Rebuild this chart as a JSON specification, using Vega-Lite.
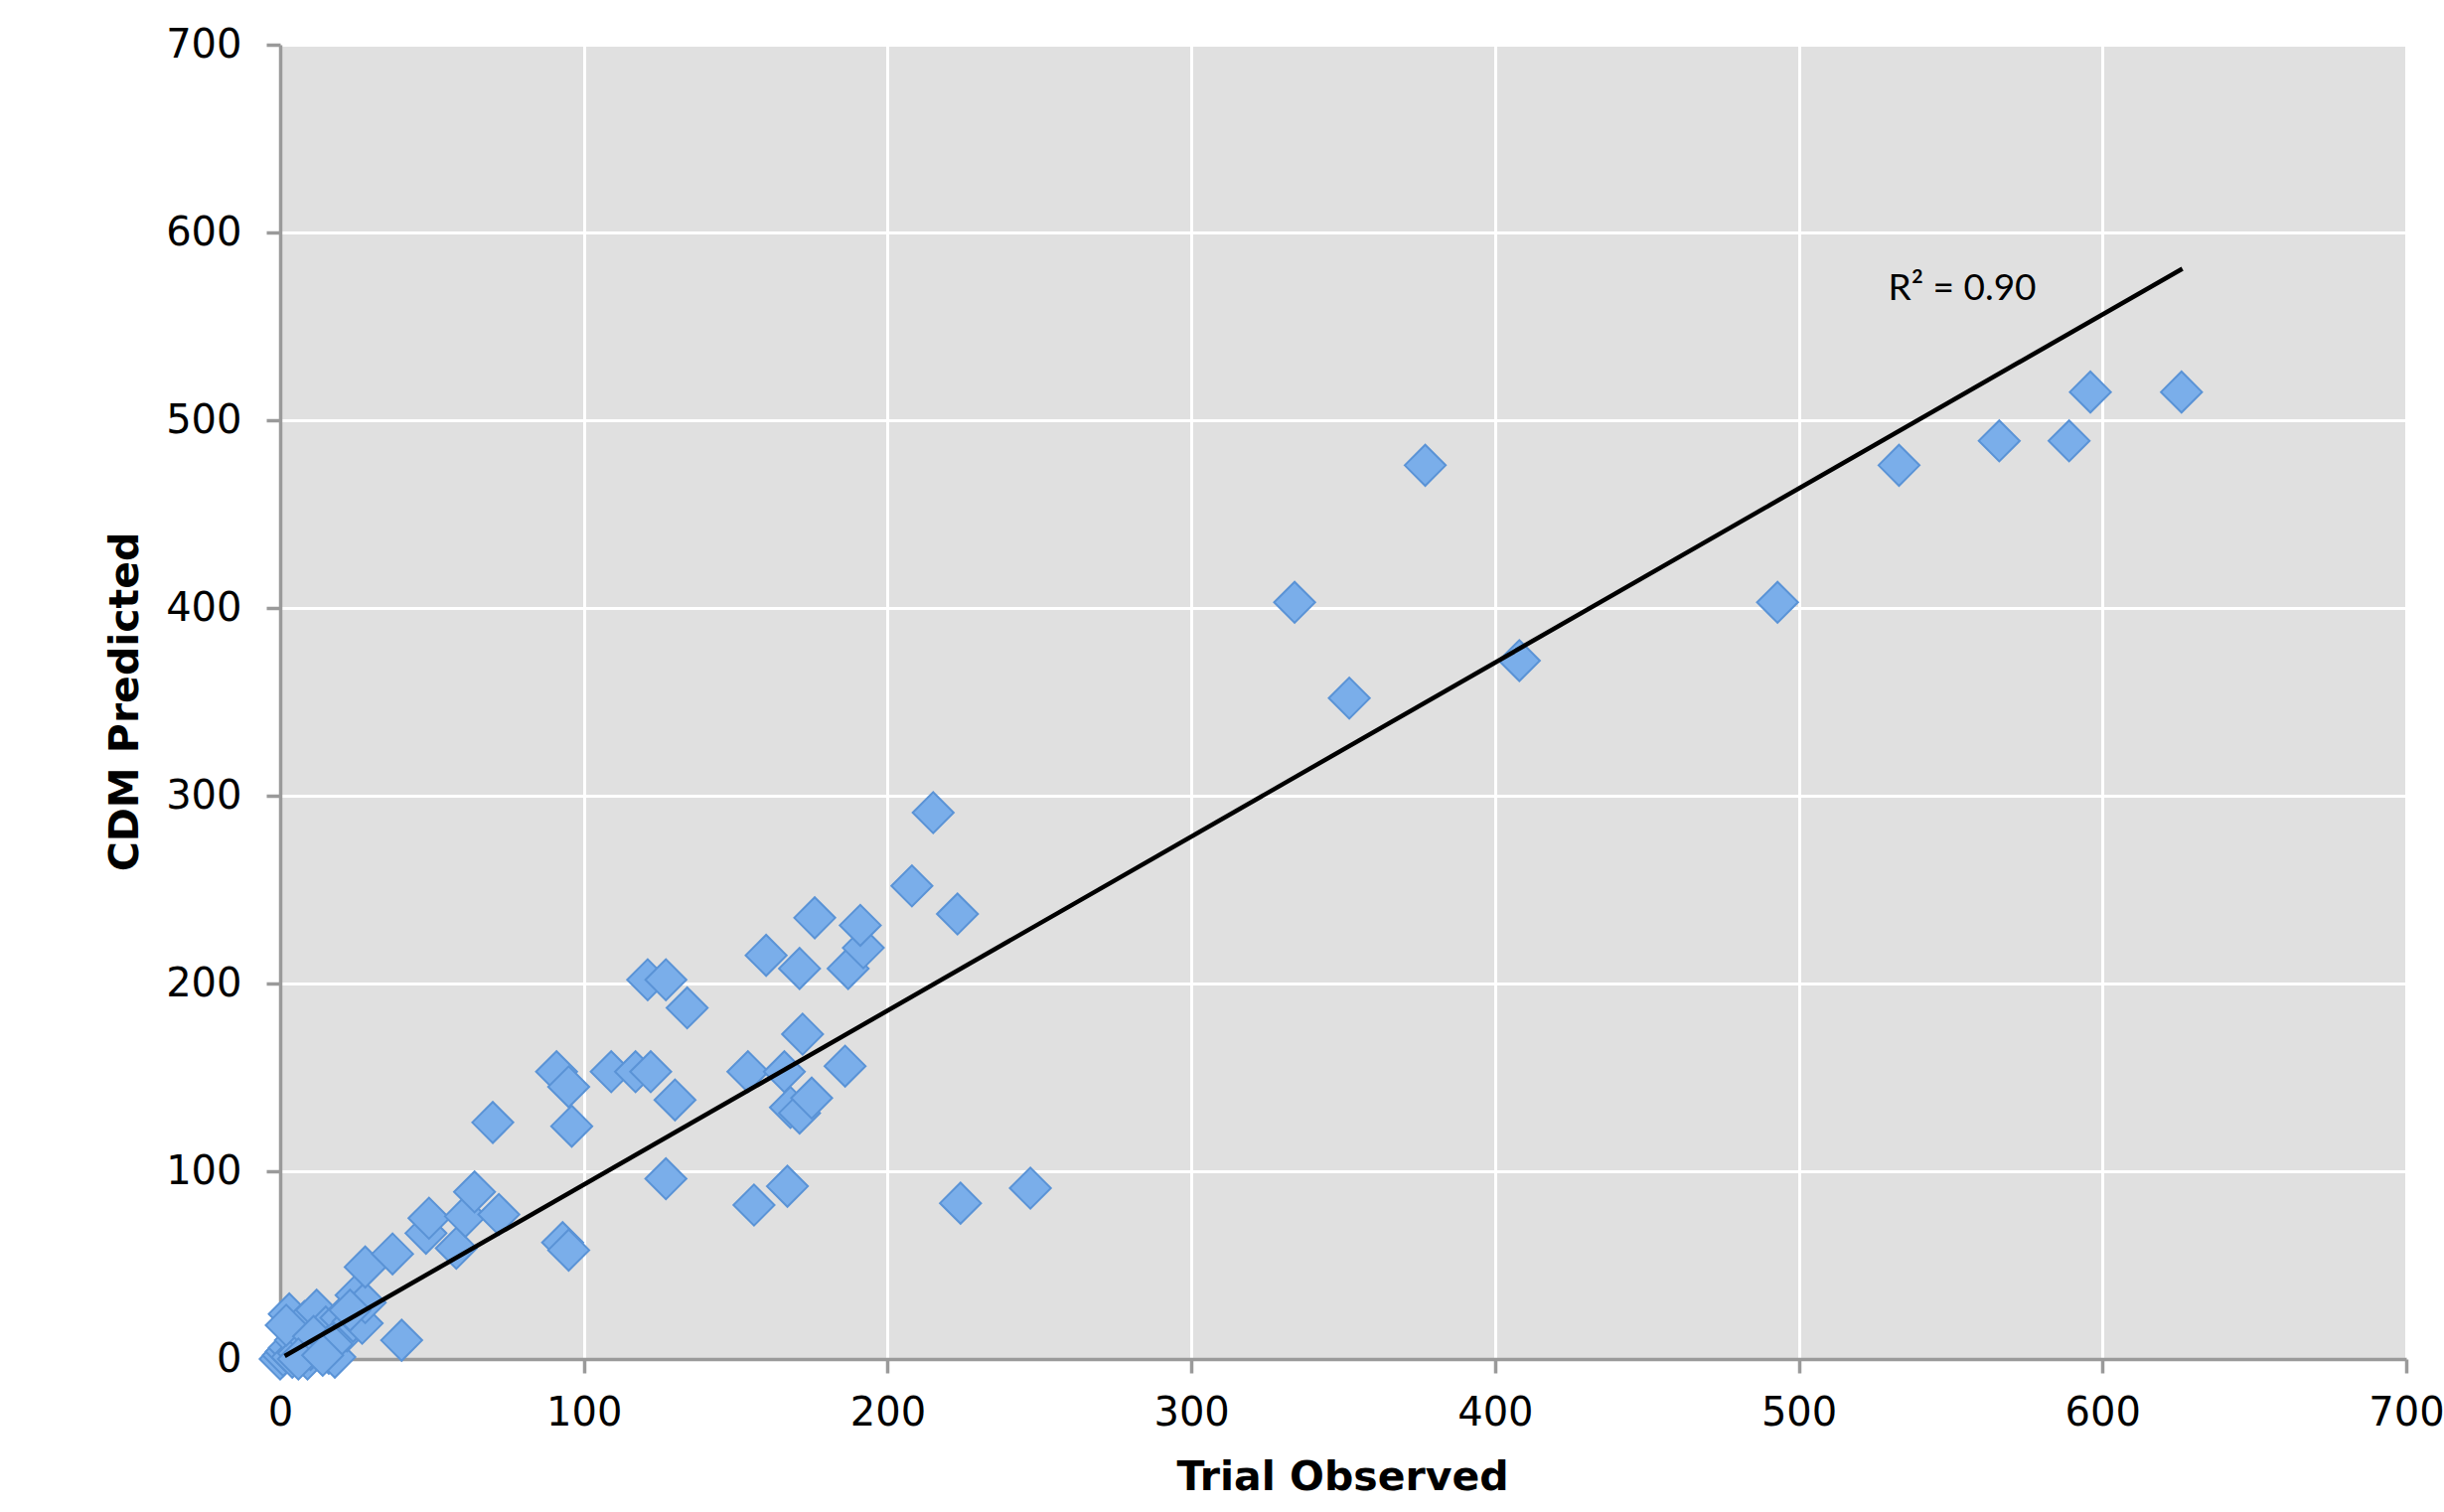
{
  "$schema": "https://vega.github.io/schema/vega-lite/v6.json",
  "width": 2140,
  "height": 1323,
  "autosize": "none",
  "padding": {"left": 282, "top": 45, "right": 38, "bottom": 154},
  "background": "white",
  "config": {
    "view": {"fill": "#e0e0e0", "stroke": null},
    "axis": {
      "labelFont": "DejaVu Sans",
      "labelFontSize": 40,
      "labelColor": "#000000",
      "labelFlush": false,
      "labelOverlap": false,
      "titleFont": "DejaVu Sans",
      "titleFontSize": 41,
      "titleFontWeight": "bold",
      "titleColor": "#000000",
      "domainColor": "#9a9a9a",
      "domainWidth": 3.5,
      "tickColor": "#9a9a9a",
      "tickWidth": 3.5,
      "tickSize": 14,
      "gridColor": "#ffffff",
      "gridWidth": 3,
      "gridOpacity": 1
    }
  },
  "datasets": {
    "points": [
      {"obs": 0, "pred": 0}, {"obs": 1, "pred": 2}, {"obs": 2, "pred": 4}, {"obs": 3, "pred": 6},
      {"obs": 3, "pred": 24}, {"obs": 4, "pred": 1}, {"obs": 5, "pred": 10}, {"obs": 6, "pred": 3},
      {"obs": 7, "pred": 14}, {"obs": 8, "pred": 20}, {"obs": 9, "pred": 0}, {"obs": 10, "pred": 5},
      {"obs": 12, "pred": 26}, {"obs": 13, "pred": 9}, {"obs": 15, "pred": 17}, {"obs": 16, "pred": 3},
      {"obs": 18, "pred": 1}, {"obs": 19, "pred": 12}, {"obs": 20, "pred": 22}, {"obs": 22, "pred": 15},
      {"obs": 24, "pred": 20}, {"obs": 25, "pred": 34}, {"obs": 27, "pred": 19}, {"obs": 28, "pred": 30},
      {"obs": 2, "pred": 18}, {"obs": 11, "pred": 12}, {"obs": 17, "pred": 8}, {"obs": 23, "pred": 26},
      {"obs": 6, "pred": 0}, {"obs": 14, "pred": 2},
      {"obs": 40, "pred": 10}, {"obs": 28, "pred": 49}, {"obs": 37, "pred": 56}, {"obs": 48, "pred": 67},
      {"obs": 49, "pred": 75}, {"obs": 58, "pred": 59}, {"obs": 61, "pred": 76}, {"obs": 64, "pred": 89},
      {"obs": 72, "pred": 77}, {"obs": 93, "pred": 62}, {"obs": 95, "pred": 58}, {"obs": 127, "pred": 96},
      {"obs": 156, "pred": 82}, {"obs": 167, "pred": 92}, {"obs": 224, "pred": 83}, {"obs": 247, "pred": 91},
      {"obs": 70, "pred": 126}, {"obs": 96, "pred": 124}, {"obs": 91, "pred": 153}, {"obs": 95, "pred": 145},
      {"obs": 109, "pred": 153}, {"obs": 117, "pred": 153}, {"obs": 122, "pred": 153}, {"obs": 154, "pred": 153},
      {"obs": 166, "pred": 153}, {"obs": 186, "pred": 156}, {"obs": 130, "pred": 138}, {"obs": 168, "pred": 134},
      {"obs": 171, "pred": 131}, {"obs": 175, "pred": 139}, {"obs": 172, "pred": 173}, {"obs": 121, "pred": 202},
      {"obs": 127, "pred": 202}, {"obs": 134, "pred": 187}, {"obs": 160, "pred": 215}, {"obs": 171, "pred": 208},
      {"obs": 187, "pred": 208}, {"obs": 192, "pred": 219}, {"obs": 191, "pred": 231}, {"obs": 176, "pred": 235},
      {"obs": 223, "pred": 237}, {"obs": 208, "pred": 252}, {"obs": 215, "pred": 291}, {"obs": 334, "pred": 403},
      {"obs": 352, "pred": 352}, {"obs": 377, "pred": 476}, {"obs": 408, "pred": 372}, {"obs": 493, "pred": 403},
      {"obs": 533, "pred": 476}, {"obs": 566, "pred": 489}, {"obs": 589, "pred": 489}, {"obs": 596, "pred": 515},
      {"obs": 626, "pred": 515}
    ],
    "trend": [
      {"obs": 1.5, "pred": 1.6},
      {"obs": 626.3, "pred": 580.7}
    ],
    "label": [
      {"obs": 553.8, "pred": 569.6, "text": "R² = 0.90"}
    ]
  },
  "layer": [
    {
      "data": {"name": "points"},
      "mark": {"type": "point", "shape": "diamond", "filled": true, "size": 1700, "fill": "#7aaeea", "stroke": "#5a93d6", "strokeWidth": 2, "opacity": 1, "clip": false},
      "encoding": {
        "x": {
          "field": "obs", "type": "quantitative",
          "scale": {"domain": [0, 700], "nice": false, "zero": true},
          "axis": {
            "values": [0, 100, 200, 300, 400, 500, 600, 700],
            "title": "Trial Observed",
            "labelPadding": 20,
            "titleX": 1069,
            "titleY": 119,
            "titleBaseline": "middle",
            "titleAnchor": "middle"
          }
        },
        "y": {
          "field": "pred", "type": "quantitative",
          "scale": {"domain": [0, 700], "nice": false, "zero": true},
          "axis": {
            "values": [0, 100, 200, 300, 400, 500, 600, 700],
            "title": "CDM Predicted",
            "labelPadding": 25,
            "titleX": -156,
            "titleY": 661,
            "titleBaseline": "middle",
            "titleAnchor": "middle"
          }
        }
      }
    },
    {
      "data": {"name": "trend"},
      "mark": {"type": "line", "color": "#000000", "strokeWidth": 4.5},
      "encoding": {
        "x": {"field": "obs", "type": "quantitative"},
        "y": {"field": "pred", "type": "quantitative"}
      }
    },
    {
      "data": {"name": "label"},
      "mark": {"type": "text", "font": "Lato", "fontSize": 37, "color": "#000000", "align": "center", "baseline": "middle"},
      "encoding": {
        "x": {"field": "obs", "type": "quantitative"},
        "y": {"field": "pred", "type": "quantitative"},
        "text": {"field": "text"}
      }
    }
  ]
}
